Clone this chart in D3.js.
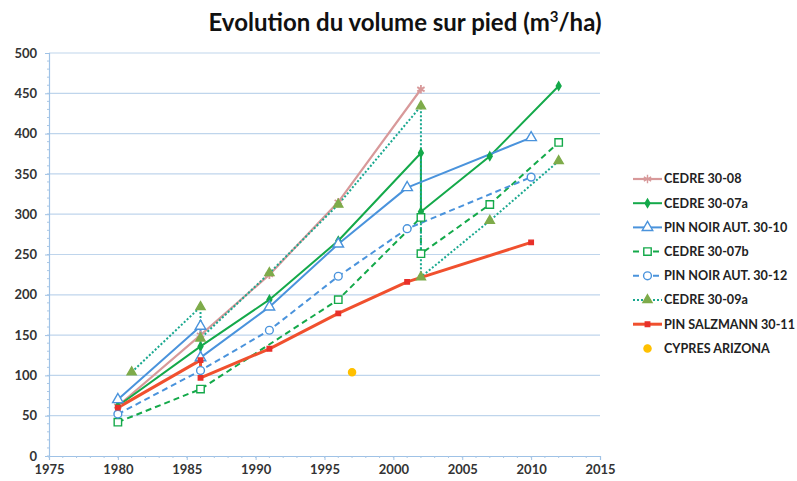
<!DOCTYPE html>
<html>
<head>
<meta charset="utf-8">
<script src="https://cdn.jsdelivr.net/npm/d3@7"></script>
<style>
  body { margin: 0; background: #fff; }
  svg { font-family: Lato, "Open Sans", sans-serif; }
</style>
</head>
<body>
<div id="chart"></div>
<script>
// series: years and values (same year twice = thinning drop)
const cedre3008Years = [1980, 1986, 1991, 1996, 2002]
const cedre3008Values = [62, 150, 225, 315, 455]

const cedre3007aYears = [1980, 1986, 1991, 1996, 2002, 2002, 2007, 2012]
const cedre3007aValues = [62, 136, 194, 267, 376, 303, 372, 459]

const pinNoir3010Years = [1980, 1986, 1986, 1991, 1996, 2001, 2010]
const pinNoir3010Values = [70, 161, 122, 185, 263, 333, 395]

const cedre3007bYears = [1980, 1986, 1996, 2002, 2002, 2007, 2012]
const cedre3007bValues = [42, 83, 194, 296, 251, 312, 389]

const pinNoir3012Years = [1980, 1986, 1991, 1996, 2001, 2010]
const pinNoir3012Values = [52, 106, 156, 223, 282, 346]

const cedre3009aYears = [1981, 1986, 1986, 1991, 1996, 2002, 2002, 2007, 2012]
const cedre3009aValues = [104, 185, 146, 227, 312, 434, 222, 292, 366]

const pinSalzmannYears = [1980, 1986, 1986, 1991, 1996, 2001, 2010]
const pinSalzmannValues = [60, 119, 97, 133, 177, 216, 265]

const cypresYears = [1997]
const cypresValues = [104]

const xTicks = [1975, 1980, 1985, 1990, 1995, 2000, 2005, 2010, 2015]
const yTicks = [0, 50, 100, 150, 200, 250, 300, 350, 400, 450, 500]

const zip = (xs, ys) => xs.map((x, i) => ({ x, y: ys[i] }))

const series = [
  { name: "CEDRE 30-08", pts: zip(cedre3008Years, cedre3008Values), color: "#d8999a", width: 2.2, dash: null, sym: d3.symbolAsterisk, size: 50, fill: "none", mcolor: "#d8999a" },
  { name: "CEDRE 30-07a", pts: zip(cedre3007aYears, cedre3007aValues), color: "#14a94a", width: 2, dash: null, sym: d3.symbolDiamond, size: 20, fill: "#14a94a", mcolor: "#14a94a" },
  { name: "PIN NOIR AUT. 30-10", pts: zip(pinNoir3010Years, pinNoir3010Values), color: "#4a93dc", width: 2, dash: null, sym: d3.symbolTriangle, size: 48, fill: "#fff", mcolor: "#4a93dc" },
  { name: "CEDRE 30-07b", pts: zip(cedre3007bYears, cedre3007bValues), color: "#14a94a", width: 2, dash: "6,4", sym: d3.symbolSquare, size: 55, fill: "#fff", mcolor: "#14a94a" },
  { name: "PIN NOIR AUT. 30-12", pts: zip(pinNoir3012Years, pinNoir3012Values), color: "#4a93dc", width: 2, dash: "6,4", sym: d3.symbolCircle, size: 48, fill: "#fff", mcolor: "#4a93dc" },
  { name: "CEDRE 30-09a", pts: zip(cedre3009aYears, cedre3009aValues), color: "#1aa88f", width: 2, dash: "2,2", sym: d3.symbolTriangle, size: 36, fill: "#7eab4a", mcolor: "#7eab4a" },
  { name: "PIN SALZMANN 30-11", pts: zip(pinSalzmannYears, pinSalzmannValues), color: "#f0502e", width: 3, dash: null, sym: d3.symbolSquare, size: 20, fill: "#e8302a", mcolor: "#e8302a" },
  { name: "CYPRES ARIZONA", pts: zip(cypresYears, cypresValues), color: null, width: 0, dash: null, sym: d3.symbolCircle, size: 40, fill: "#ffc000", mcolor: "#ffc000" }
]

const W = 797, H = 481
const margin = { top: 53, right: 197, bottom: 25, left: 49 }

const svg = d3.select("#chart").append("svg")
  .attr("width", W)
  .attr("height", H)

const x = d3.scaleLinear().domain([1975, 2015]).range([margin.left, W - margin.right])
const y = d3.scaleLinear().domain([0, 500]).range([H - margin.bottom, margin.top])

// title
const title = svg.append("text")
  .attr("x", 405).attr("y", 31)
  .attr("text-anchor", "middle")
  .attr("font-size", "24px")
  .attr("font-weight", "bold")
  .attr("fill", "#111")
title.append("tspan").text("Evolution du volume sur pied (m")
title.append("tspan").attr("baseline-shift", "super").attr("font-size", "15px").text("3")
title.append("tspan").text("/ha)")

// gridlines
svg.append("g")
  .selectAll("line")
  .data(yTicks.slice(1))
  .join("line")
  .attr("x1", x(1975)).attr("x2", x(2015))
  .attr("y1", d => y(d)).attr("y2", d => y(d))
  .attr("stroke", "#bfd5ec")
  .attr("stroke-width", 1.2)

// axes
const yAxis = svg.append("g")
  .attr("transform", `translate(${x(1975)},0)`)
  .call(d3.axisLeft(y).tickValues(yTicks).tickSize(4).tickPadding(8))
const xAxis = svg.append("g")
  .attr("transform", `translate(0,${y(0)})`)
  .call(d3.axisBottom(x).tickValues(xTicks).tickFormat(d3.format("d")).tickSize(4).tickPadding(5))

// minor ticks
svg.append("g").selectAll("line")
  .data(d3.range(0, 500, 10))
  .join("line")
  .attr("x1", x(1975) - 2).attr("x2", x(1975))
  .attr("y1", d => y(d)).attr("y2", d => y(d))
  .attr("stroke", "#a9c7e6")
svg.append("g").selectAll("line")
  .data(d3.range(1975, 2015, 1))
  .join("line")
  .attr("x1", d => x(d)).attr("x2", d => x(d))
  .attr("y1", y(0)).attr("y2", y(0) + 2)
  .attr("stroke", "#a9c7e6")

;[yAxis, xAxis].forEach(a => {
  a.select(".domain").attr("stroke", "#9fc2e6").attr("stroke-width", 1.2)
  a.selectAll(".tick line").attr("stroke", "#9fc2e6")
  a.selectAll(".tick text")
    .attr("font-size", "13px")
    .attr("font-family", "Lato, sans-serif")
    .attr("font-weight", "bold")
    .attr("fill", "#333")
})

// lines
const line = d3.line().x(d => x(d.x)).y(d => y(d.y))

svg.append("g")
  .selectAll("path")
  .data(series.filter(s => s.color))
  .join("path")
  .attr("fill", "none")
  .attr("stroke", d => d.color)
  .attr("stroke-width", d => d.width)
  .attr("stroke-dasharray", d => d.dash)
  .attr("stroke-linejoin", "round")
  .attr("d", d => line(d.pts))

// markers
const markers = svg.append("g")
series.forEach(s => {
  markers.append("g")
    .selectAll("path")
    .data(s.pts)
    .join("path")
    .attr("transform", d => `translate(${x(d.x)},${y(d.y)})`)
    .attr("d", d3.symbol().type(s.sym).size(s.size))
    .attr("fill", s.fill)
    .attr("stroke", s.mcolor)
    .attr("stroke-width", s.sym === d3.symbolAsterisk ? 1.8 : 1.4)
})

// legend
const legend = svg.append("g")
  .selectAll("g")
  .data(series)
  .join("g")
  .attr("transform", (d, i) => `translate(633,${179 + i * 24.2})`)

legend.filter(d => d.color)
  .append("line")
  .attr("x1", 0).attr("x2", 29)
  .attr("stroke", d => d.color)
  .attr("stroke-width", d => d.width)
  .attr("stroke-dasharray", d => d.dash)

legend.append("path")
  .attr("transform", "translate(14.5,0)")
  .attr("d", d => d3.symbol().type(d.sym).size(d.size)())
  .attr("fill", d => d.fill)
  .attr("stroke", d => d.mcolor)
  .attr("stroke-width", 1.4)

legend.append("text")
  .attr("x", 31)
  .attr("dy", "0.35em")
  .attr("font-size", "12.6px")
  .attr("font-weight", "bold")
  .attr("fill", "#222")
  .text(d => d.name)
</script>
</body>
</html>
